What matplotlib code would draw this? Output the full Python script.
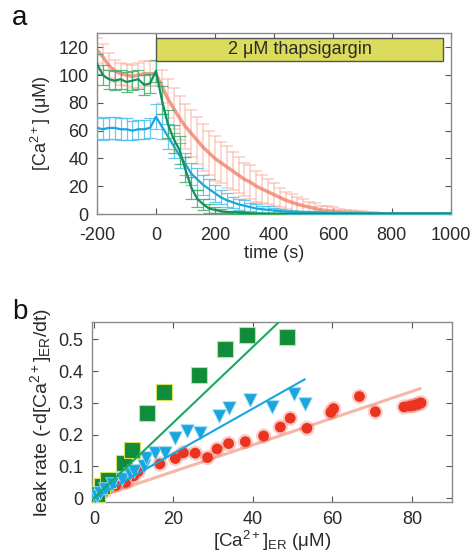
import numpy as np
import matplotlib
matplotlib.use("Agg")
import matplotlib.pyplot as plt

plt.rcParams['font.family'] = ['Liberation Sans', 'DejaVu Sans']
plt.rcParams['mathtext.fontset'] = 'custom'
plt.rcParams['mathtext.rm'] = 'Liberation Sans'
plt.rcParams['mathtext.it'] = 'Liberation Sans'
plt.rcParams['axes.unicode_minus'] = False

# ---------------- panel a data ----------------
time_s = list(range(-200, 1001, 20))

red_ca = [118, 113, 107, 103, 101, 100, 99, 100, 101, 101, 101,
          92, 83, 76, 69, 63, 58, 53, 48, 44, 40, 37, 34, 31, 28, 25, 23, 20, 18, 16,
          14, 12, 10, 8.5, 7, 6, 5, 4, 3, 2.5, 2, 1.5, 1.2, 1.0, 0.8, 0.6, 0.5, 0.4,
          0.3, 0.3, 0.3, 0.3, 0.3, 0.3, 0.3, 0.3, 0.3, 0.3, 0.3, 0.3, 0.3]
red_err = [9, 9, 9, 8, 8, 8, 8, 9, 9, 9, 9,
           12, 14, 15, 16, 16, 17, 17, 17, 16, 16, 15, 15, 14, 13, 12, 12, 11, 10, 9,
           8, 7, 6, 6, 5, 5, 4, 4, 3, 3, 3, 2, 2, 2, 1.5, 1.5, 1, 1,
           0.5, 0.5, 0.5, 0.5, 0.5, 0.5, 0.5, 0.5, 0.5, 0.5, 0.5, 0.5, 0.5]

green_ca = [108, 100, 97, 96, 97, 95, 96, 97, 93, 94, 103,
            82, 65, 54, 46, 32, 19, 11, 7, 4, 3, 2, 1.5, 1.2, 1.0, 0.8, 0.6, 0.5, 0.4, 0.3,
            0.2, 0.2, 0.1, 0.1, 0.1, 0.1, 0.1, 0.1, 0.1, 0.1, 0.1, 0.1, 0.1, 0.1, 0.1, 0.1,
            0.1, 0.1, 0.1, 0.1, 0.1, 0.1, 0.1, 0.1, 0.1, 0.1, 0.1, 0.1, 0.1, 0.1, 0.1]
green_err = [7, 7, 7, 7, 7, 7, 7, 7, 7, 7, 8,
             10, 10, 10, 10, 9, 8, 6, 4, 3, 2, 1.5, 1, 1, 1, 0.5, 0.5, 0.5, 0.5, 0.5,
             0.5, 0.5, 0.5, 0.5, 0.5, 0.5, 0.5, 0.5, 0.5, 0.5, 0.5, 0.5, 0.5, 0.5, 0.5, 0.5,
             0.5, 0.5, 0.5, 0.5, 0.5, 0.5, 0.5, 0.5, 0.5, 0.5, 0.5, 0.5, 0.5, 0.5, 0.5]

blue_ca = [62, 61, 62, 62, 61, 61, 60, 61, 61, 62, 70,
           63, 56, 49, 42, 36, 29, 25, 21, 18, 15, 12, 10, 8.5, 7, 6, 5, 4, 3.5, 3,
           2.5, 2, 1.7, 1.5, 1.3, 1.2, 1.1, 1.0, 0.9, 0.8, 0.8, 0.7, 0.7, 0.6, 0.6, 0.6,
           0.5, 0.5, 0.5, 0.5, 0.5, 0.5, 0.5, 0.5, 0.5, 0.5, 0.5, 0.5, 0.5, 0.5, 0.5]
blue_err = [8, 8, 8, 8, 8, 8, 7, 7, 7, 7, 9,
            9, 9, 9, 9, 8, 8, 8, 7, 7, 6, 5, 5, 4, 4, 4, 3, 3, 2.5, 2.5,
            2, 2, 1.5, 1.5, 1, 1, 1, 1, 1, 1, 0.5, 0.5, 0.5, 0.5, 0.5, 0.5,
            0.5, 0.5, 0.5, 0.5, 0.5, 0.5, 0.5, 0.5, 0.5, 0.5, 0.5, 0.5, 0.5, 0.5, 0.5]

drug_start, drug_end = 0, 975
drug_label = "2 μM thapsigargin"

# ---------------- panel b data ----------------
green_x = [0.3, 0.8, 2.0, 3.6, 7.5, 9.6, 13.4, 17.6, 26.5, 33.1, 38.5, 48.6]
green_y = [0.005, 0.015, 0.04, 0.058, 0.112, 0.152, 0.268, 0.333, 0.388, 0.468, 0.512, 0.507]
green_slope = 0.0119

blue_x = [0.3, 0.7, 1.5, 2.8, 4.5, 7.0, 9.0, 10.2, 12.6, 13.0, 15.3, 18.0, 20.5,
          23.5, 26.8, 31.4, 33.9, 39.4, 44.8, 50.3, 53.2]
blue_y = [0.003, 0.007, 0.017, 0.03, 0.045, 0.06, 0.075, 0.085, 0.10, 0.128, 0.143,
          0.143, 0.188, 0.21, 0.205, 0.26, 0.285, 0.31, 0.288, 0.327, 0.298]
blue_slope = 0.00705

red_x = [1.8, 3.0, 5.5, 8.0, 10.0, 11.2, 16.6, 20.5, 22.5, 25.5, 28.6, 31.0, 33.9,
         38.1, 42.7, 46.9, 49.4, 53.6, 59.6, 60.3, 66.8, 70.8, 78.0, 79.5, 80.5, 81.5, 82.3]
red_y = [0.015, 0.025, 0.04, 0.05, 0.07, 0.085, 0.108, 0.125, 0.143, 0.142, 0.128, 0.155,
         0.172, 0.178, 0.196, 0.224, 0.252, 0.22, 0.27, 0.282, 0.32, 0.272, 0.287,
         0.29, 0.292, 0.296, 0.30]
red_slope = 0.0042

# ---------------- styling ----------------
RED = '#f07a62'
RED_ERR = '#f6a48f'
GREEN = '#12915c'
GREEN_ERR = '#3fae6a'
BLUE = '#19a6de'
BLUE_ERR = '#4cc0ea'
SPINE = '#8a8a8a'
TXT = '#2a2a2a'

fig = plt.figure(figsize=(4.71, 5.56), dpi=100)

def style_axes(ax, xpad=8, ypad=5):
    for s in ax.spines.values():
        s.set_color(SPINE)
        s.set_linewidth(1.0)
    ax.tick_params(direction='in', top=True, right=True, length=4, width=0.8,
                   color='#555555', labelsize=13, labelcolor=TXT)
    ax.tick_params(axis='x', pad=xpad)
    ax.tick_params(axis='y', pad=ypad)

# ---- panel a ----
ax = fig.add_axes([0.206, 0.615, 0.751, 0.325])
t = np.array(time_s)
ax.errorbar(t, red_ca, yerr=red_err, fmt='none', ecolor=RED_ERR, elinewidth=1.2,
            capsize=4, capthick=1.2, alpha=0.5, zorder=2)
ax.plot(t, red_ca, color=RED, lw=2.5, alpha=0.75, zorder=3)
ax.errorbar(t, blue_ca, yerr=blue_err, fmt='none', ecolor=BLUE_ERR, elinewidth=0.9,
            capsize=4, capthick=0.9, alpha=0.85, zorder=4)
ax.plot(t, blue_ca, color=BLUE, lw=1.6, zorder=5)
ax.errorbar(t, green_ca, yerr=green_err, fmt='none', ecolor=GREEN_ERR, elinewidth=0.9,
            capsize=4, capthick=0.9, alpha=0.85, zorder=6)
ax.plot(t, green_ca, color=GREEN, lw=1.6, zorder=7)
ax.set_xlim(-200, 1000)
ax.set_ylim(0, 130)
ax.set_xticks([-200, 0, 200, 400, 600, 800, 1000])
ax.set_yticks([0, 20, 40, 60, 80, 100, 120])
style_axes(ax, xpad=9, ypad=6)
ax.set_xlabel('time (s)', fontsize=13, color=TXT, labelpad=1)
ax.set_ylabel('[Ca$^{2+}$] (μM)', fontsize=13, color=TXT, labelpad=4)
ax.add_patch(plt.Rectangle((drug_start, 110), drug_end - drug_start, 17,
                           facecolor='#dcdc5c', edgecolor='#555555', lw=1.0, zorder=8))
ax.text((drug_start + drug_end) / 2, 118.5, drug_label, ha='center', va='center',
        fontsize=13, color=TXT, zorder=9)

# ---- panel b ----
bx = fig.add_axes([0.195, 0.0966, 0.764, 0.3236])
xr = np.array([0, 82])
bx.plot(xr, red_slope * xr, color=RED, lw=2.2, alpha=0.55, zorder=2)
bx.scatter(red_x, red_y, s=120, color='#ee3a24', alpha=0.25, edgecolors='none', zorder=3)
bx.scatter(red_x, red_y, s=60, color='#ea3420', edgecolors='none', zorder=4)
bx.scatter(blue_x, blue_y, s=95, marker='v', color=BLUE, edgecolors='#9fdcf2',
           linewidths=0.6, zorder=6)
bx.scatter(green_x, green_y, s=120, marker='s', color='#0f8c3c', edgecolors='#d8e060',
           linewidths=0.8, zorder=5)
xb = np.array([0, 53])
bx.plot(xb, blue_slope * xb, color=BLUE, lw=1.5, zorder=7)
xg = np.array([0, 50])
bx.plot(xg, green_slope * xg, color='#1aa860', lw=1.5, zorder=7)
bx.set_xlim(-0.5, 90)
bx.set_ylim(-0.0125, 0.553)
bx.set_xticks([0, 20, 40, 60, 80])
bx.set_yticks([0, 0.1, 0.2, 0.3, 0.4, 0.5])
bx.set_yticklabels(['0', '0.1', '0.2', '0.3', '0.4', '0.5'])
style_axes(bx, xpad=6, ypad=6)
bx.set_xlabel('[Ca$^{2+}$]$_{\\mathregular{ER}}$ (μM)', fontsize=13.5, color=TXT, labelpad=1)
bx.set_ylabel('leak rate (-d[Ca$^{2+}$]$_{ER}$/dt)', fontsize=14, color=TXT, labelpad=3)

fig.text(12 / 471, 1 - 25 / 556, 'a', fontsize=20, color='#111111', va='baseline')
fig.text(12 / 471, 1 - 319 / 556, 'b', fontsize=20, color='#111111', va='baseline')

fig.savefig('out.png', dpi=100)
